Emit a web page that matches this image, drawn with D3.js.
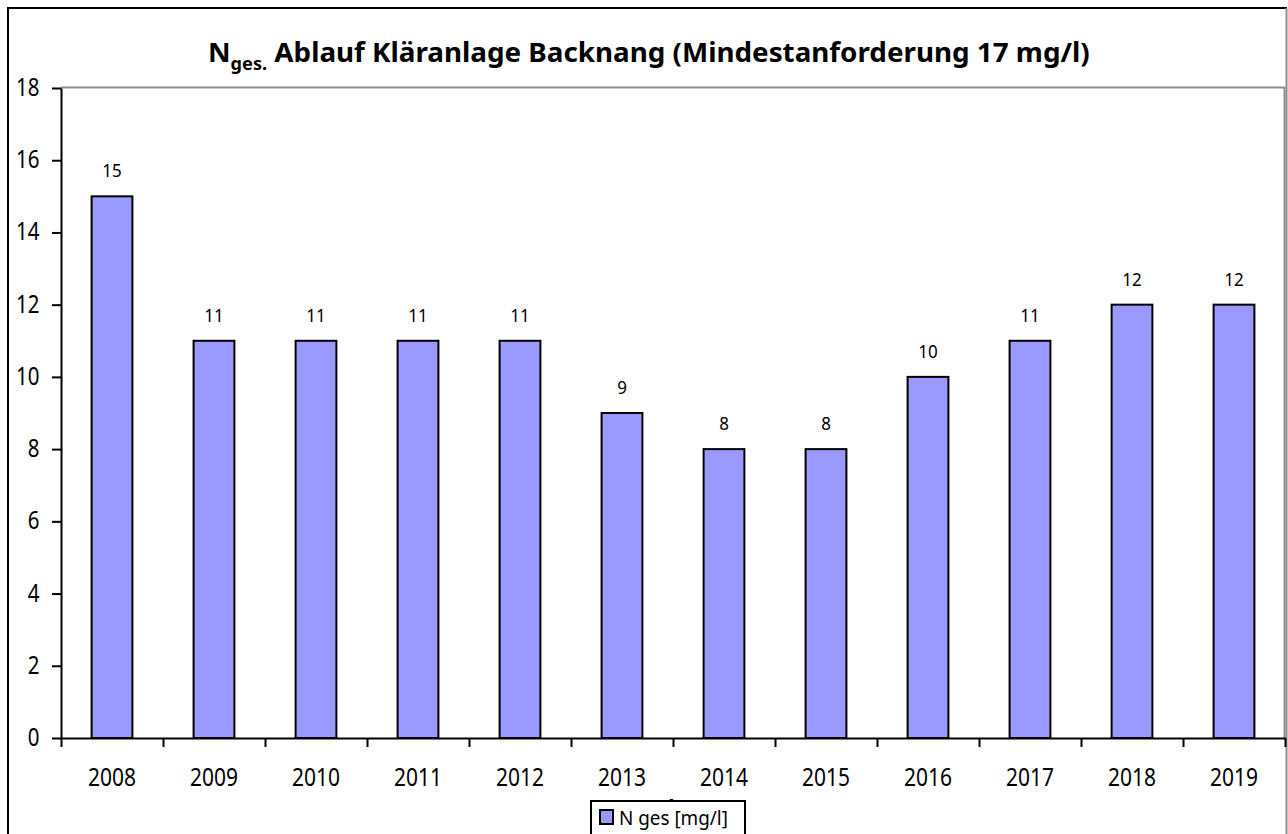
<!DOCTYPE html>
<html><head><meta charset="utf-8">
<script src="https://cdn.jsdelivr.net/npm/d3@7"></script>
<style>
html,body{margin:0;padding:0;background:#fff;}
svg{display:block;}
text{font-family:"Noto Sans","Open Sans",sans-serif;fill:#000;}
</style></head>
<body>
<svg id="chart" width="1288" height="834"></svg>
<script>
const categories = ["2008","2009","2010","2011","2012","2013","2014","2015","2016","2017","2018","2019"];
const values = [15,11,11,11,11,9,8,8,10,11,12,12];
const yTicks = [0,2,4,6,8,10,12,14,16,18];
const titleMain = "N";
const titleSub = "ges.";
const titleRest = " Ablauf Kläranlage Backnang (Mindestanforderung 17 mg/l)";
const xTitle = "Jahr";
const legendLabel = "N ges [mg/l]";

const svg = d3.select("#chart");
const W = 1288, H = 834;
const plot = {left:61, right:1285, top:88, bottom:738};

// outer frame
svg.append("path").attr("d", `M8,${H+5} L8,8 L1287,8`).attr("fill","none").attr("stroke","#000").attr("stroke-width",2);
svg.append("line").attr("x1",1286.5).attr("x2",1286.5).attr("y1",8).attr("y2",H+5).attr("stroke","#8c8c8c").attr("stroke-width",2);

const x = d3.scaleBand().domain(categories).range([plot.left, plot.right]).paddingInner(0.6).paddingOuter(0.3);
const xb = d3.scaleLinear().domain([0, categories.length]).range([plot.left, plot.right]);
const y = d3.scaleLinear().domain([0,18]).range([plot.bottom, plot.top]);

// plot area border (top / right)
svg.append("path").attr("d", `M${plot.left},${plot.top-0.5} L${plot.right-0.5},${plot.top-0.5} L${plot.right-0.5},${plot.bottom}`)
  .attr("fill","none").attr("stroke","#8c8c8c").attr("stroke-width",2);

// bars
svg.append("g").selectAll("rect").data(values).join("rect")
  .attr("x",(d,i)=>x(categories[i]))
  .attr("y",d=>y(d))
  .attr("width",x.bandwidth())
  .attr("height",d=>y(0)-y(d))
  .attr("fill","#9999FF").attr("stroke","#000").attr("stroke-width",2);

// data labels
svg.append("g").selectAll("text").data(values).join("text")
  .attr("text-anchor","middle")
  .attr("font-size",17)
  .attr("transform",(d,i)=>`translate(${x(categories[i])+x.bandwidth()/2},${y(d)-19}) scale(1,1.1)`)
  .text(d=>d);

// y axis
const gy = svg.append("g").attr("transform",`translate(${plot.left},0)`)
  .call(d3.axisLeft(y).tickValues(yTicks).tickSize(9).tickSizeOuter(0));
gy.select(".domain").attr("stroke","#000").attr("stroke-width",2);
gy.selectAll(".tick line").attr("stroke","#000").attr("stroke-width",2);
gy.selectAll(".tick text").attr("x",null).attr("dy",null)
  .attr("font-size",20.5).attr("font-family",null).attr("fill","#000")
  .attr("text-anchor","end")
  .attr("transform","translate(-21.5,7.5) scale(1,1.2)");

// x axis (category boundary ticks)
const gx = svg.append("g").attr("transform",`translate(0,${plot.bottom})`)
  .call(d3.axisBottom(xb).tickValues(d3.range(categories.length+1)).tickSize(9).tickSizeOuter(0).tickFormat(""));
gx.select(".domain").attr("stroke","#000").attr("stroke-width",2);
gx.selectAll(".tick line").attr("stroke","#000").attr("stroke-width",2);

// x labels
svg.append("g").selectAll("text").data(categories).join("text")
  .attr("text-anchor","middle")
  .attr("font-size",21)
  .attr("transform",d=>`translate(${x(d)+x.bandwidth()/2},${plot.bottom+47.5}) scale(1,1.2)`)
  .text(d=>d);

// x axis title (mostly hidden by legend, as in the original)
svg.append("text").attr("text-anchor","middle").attr("font-weight","bold").attr("font-size",21)
  .attr("transform",`translate(670,818) scale(1,1.2)`).text(xTitle);

// title
const title = svg.append("text").attr("font-weight","bold").attr("font-size",26);
title.append("tspan").text(titleMain);
title.append("tspan").attr("font-size",17).attr("dy",8).text(titleSub);
title.append("tspan").attr("dy",-8).text(titleRest);
const tw = title.node().getComputedTextLength();
const targetW = 882;
title.attr("transform",`translate(208,62) scale(${targetW/tw},1.03)`);

// legend
const lg = svg.append("g");
lg.append("rect").attr("x",591).attr("y",801).attr("width",154).attr("height",60)
  .attr("fill","#fff").attr("stroke","#000").attr("stroke-width",2);
lg.append("rect").attr("x",600).attr("y",810).attr("width",13).attr("height",14)
  .attr("fill","#9999FF").attr("stroke","#000").attr("stroke-width",2);
const lt = lg.append("text").attr("font-size",17).text(legendLabel);
const lw = lt.node().getComputedTextLength();
lt.attr("transform",`translate(619,825) scale(${109/lw},1.15)`);
</script>
</body></html>
